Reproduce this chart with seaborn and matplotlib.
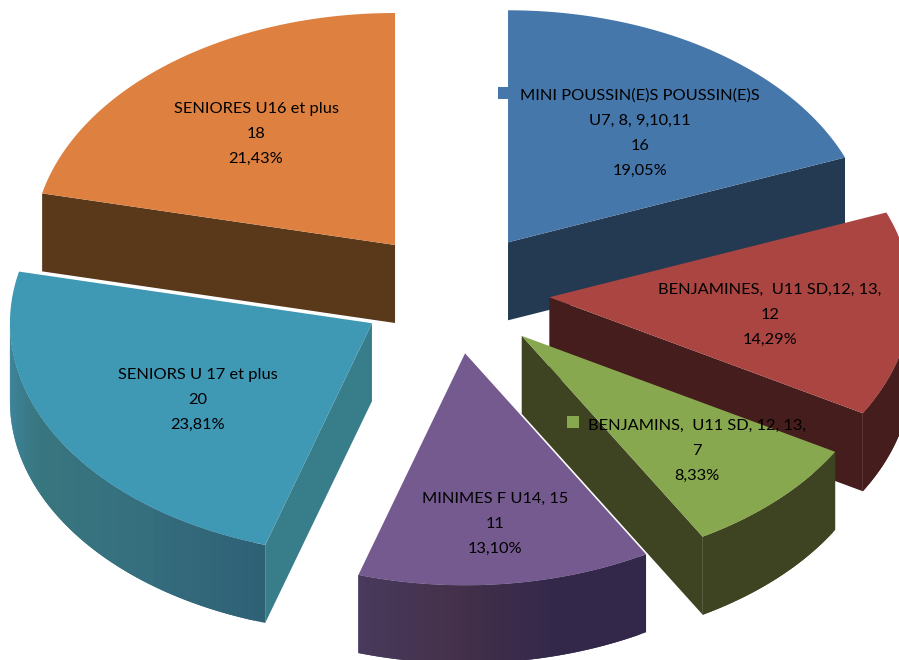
import numpy as np
import seaborn as sns
import matplotlib.pyplot as plt

categories = ['MINI POUSSIN(E)S POUSSIN(E)S\nU7, 8, 9,10,11',
              'BENJAMINES,  U11 SD,12, 13,',
              'BENJAMINS,  U11 SD, 12, 13,',
              'MINIMES F U14, 15',
              'SENIORS U 17 et plus',
              'SENIORES U16 et plus']
values = [16, 12, 7, 11, 20, 18]

top_colors = ['#4577ab', '#ab4542', '#87a84e', '#755a90', '#3f98b4', '#de8140']
cut_colors = ['#243a52', '#451d1c', '#3e4321', '#3a2c4a', '#387d8a', '#5a391b']
wall_stops = [['#243a52'], ['#451d1c'], ['#3e4321'],
              ['#33284a', '#33284a', '#44304a', '#483a5c'],
              ['#2f6175', '#36707f', '#38767f', '#3f87a0'],
              ['#5a391b']]

label_x = [640, 770, 697, 495, 198, 256]
label_y = [133, 315, 451, 524, 400, 134]
key_x = [504, None, 573, 408, None, None]
key_y = [93, None, 422, 495, None, None]

# geometry of the tilted pie, in image pixels
CX, CY = 454.4, 292.7
RX, RY = 362, 232
EXPLODE = 0.263
DEPTH = 78

sns.set_theme(style='white')
plt.rcParams['font.family'] = ['Lato', 'DejaVu Sans']

fig = plt.figure(figsize=(8.99, 6.6), dpi=100)
ax = fig.add_axes([0, 0, 1, 1])
ax.set_xlim(0, 899)
ax.set_ylim(660, 0)
ax.axis('off')


def rim(ox, oy, t):
    return ox + RX * np.sin(t), oy - RY * np.cos(t)


total = sum(values)
edges = np.cumsum([0] + values) / total * 2 * np.pi

slices = []
for i in range(len(values)):
    mid = (edges[i] + edges[i + 1]) / 2
    ox = CX + EXPLODE * RX * np.sin(mid)
    oy = CY - EXPLODE * RY * np.cos(mid)
    slices.append((i, ox, oy, edges[i], edges[i + 1]))

# back to front
for i, ox, oy, t0, t1 in [slices[k] for k in (0, 5, 1, 4, 2, 3)]:
    # cut faces, only those that look down at the viewer
    for t, visible in ((t0, np.sin(t0) < -1e-6), (t1, np.sin(t1) > 1e-6)):
        if visible:
            x, y = rim(ox, oy, t)
            ax.fill([ox, x, x, ox], [oy, y, y + DEPTH, oy + DEPTH],
                    color=cut_colors[i], lw=0)

    # outer wall, only the part turned to the viewer
    a0, a1 = max(t0, np.pi / 2), min(t1, 3 * np.pi / 2)
    if a1 > a0:
        n = 40
        pal = sns.blend_palette(wall_stops[i] * (2 if len(wall_stops[i]) == 1 else 1), n)
        ts = np.linspace(a0, a1, n + 1)
        for k in range(n):
            # each band runs under the next one so no seams show
            seg = np.linspace(ts[k], ts[min(k + 2, n)], 8)
            x, y = rim(ox, oy, seg)
            ax.fill(np.r_[x, x[::-1]], np.r_[y, y[::-1] + DEPTH],
                    color=pal[k], lw=0)

    # top face
    seg = np.linspace(t0, t1, 200)
    x, y = rim(ox, oy, seg)
    ax.fill(np.r_[ox, x], np.r_[oy, y], color=top_colors[i], lw=0)

for i, cat in enumerate(categories):
    pct = f'{values[i] / total * 100:.2f}'.replace('.', ',')
    ax.text(label_x[i], label_y[i], f'{cat}\n{values[i]}\n{pct}%',
            ha='center', va='center', fontsize=11.8, color='black',
            linespacing=2.0)
    if key_x[i] is not None:
        ax.plot(key_x[i], key_y[i], marker='s', ms=8, color=top_colors[i],
                mew=0, ls='none')

fig.savefig('out.png', dpi=100)
